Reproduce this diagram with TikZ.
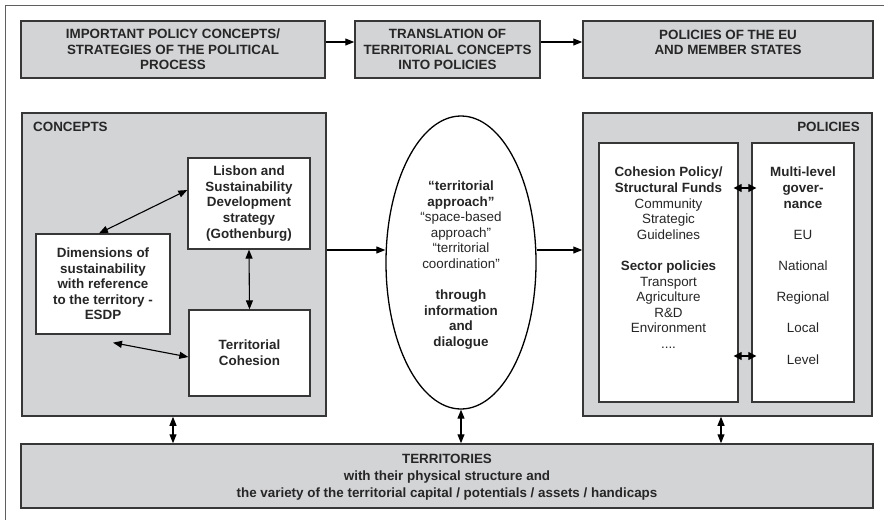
\documentclass[tikz,border=0pt]{standalone}
\usepackage{fontspec}
\setmainfont{Liberation Sans}
\usetikzlibrary{arrows.meta,shapes.geometric,fit}
\definecolor{boxgray}{RGB}{211,212,214}
\definecolor{edge}{RGB}{55,55,55}
\definecolor{frame}{RGB}{95,95,95}
\begin{document}
\begin{tikzpicture}[x=1pt,y=-1pt,
  gbox/.style={draw=edge,line width=1.5pt,fill=boxgray,inner sep=0pt},
  wbox/.style={draw=edge,line width=1.3pt,fill=white,inner sep=0pt},
  txt/.style={font=\fontsize{13.4}{15.6}\selectfont,align=center,inner sep=0pt,text=black!85},
  btxt/.style={font=\fontsize{13.4}{15.6}\selectfont\bfseries,align=center,inner sep=0pt,text=black!85},
  arr/.style={line width=1.1pt,-{Triangle[length=9pt,width=7pt]}},
  darr/.style={line width=1.1pt,{Triangle[length=9pt,width=7pt]}-{Triangle[length=9pt,width=7pt]}},
  sdarr/.style={line width=1.1pt,{Triangle[length=8pt,width=8pt]}-{Triangle[length=8pt,width=8pt]}},
]
\useasboundingbox (0,0) rectangle (884,520);
\draw[line width=1.6pt,draw=frame] (5.5,520) -- (5.5,5.5) -- (884,5.5);

% top row
\node[gbox,fit={(21,21) (325,78)}] (b1) {};
\node[btxt] (b1t) at (b1.center) {IMPORTANT POLICY CONCEPTS/\\STRATEGIES OF THE POLITICAL\\PROCESS};
\node[gbox,fit={(355,21) (540,78)}] (b2) {};
\node[btxt] (b2t) at (b2.center) {TRANSLATION OF\\TERRITORIAL CONCEPTS\\INTO POLICIES};
\node[gbox,fit={(583,21) (873,78)}] (b3) {};
\node[btxt] (b3t) at (728,42.5) {POLICIES OF THE EU\\AND MEMBER STATES};
\coordinate (ytop) at (0,42);
\draw[arr] (b1.east |- ytop) -- (b2.west |- ytop);
\draw[arr] (b2.east |- ytop) -- (b3.west |- ytop);

% concepts
\node[gbox,fit={(22,113) (326,416)}] (con) {};
\node[btxt,anchor=north west] (conl) at (33,122) {CONCEPTS};
\node[wbox,fit={(188,158) (310,249)}] (lis) {};
\node[btxt] (list) at (lis.center) {Lisbon and\\Sustainability\\Development\\strategy\\(Gothenburg)};
\node[wbox,fit={(36,234) (170,334)}] (dim) {};
\node[btxt] (dimt) at (dim.center) {Dimensions of\\sustainability\\with reference\\to the territory -\\ESDP};
\node[wbox,fit={(189,310) (310,396)}] (tc) {};
\node[btxt] (tct) at (tc.center) {Territorial\\Cohesion};
\draw[darr] ([xshift=-4pt]dim.north) -- ([yshift=13.5pt]lis.west);
\draw[darr] (lis.south) -- (tc.north);
\draw[darr] ([xshift=10pt,yshift=-8pt]dim.south) -- ([yshift=-4pt]tc.west);

% ellipse
\node[draw=black,line width=1.3pt,fill=white,ellipse,minimum width=150pt,minimum height=293pt,inner sep=0pt] (ell) at (461,262.5) {};
\node[txt] (ellt) at (461,265) {\textbf{“territorial}\\\textbf{approach”}\\“space-based\\approach”\\“territorial\\coordination”\\[15.6pt]\textbf{through}\\\textbf{information}\\\textbf{and}\\\textbf{dialogue}};
\coordinate (ymid) at (0,250);
\draw[arr] (con.east |- ymid) -- (ell.west |- ymid);

% policies
\node[gbox,fit={(583,113) (872,416)}] (pol) {};
\draw[arr] (ell.east |- ymid) -- (pol.west |- ymid);
\node[btxt,anchor=north east] (poll) at (860,122) {POLICIES};
\node[wbox,fit={(599,143) (738,402)}] (coh) {};
\node[txt,anchor=north] (coht) at (668.5,167) {\textbf{Cohesion Policy/}\\\textbf{Structural Funds}\\Community\\Strategic\\Guidelines\\[15.6pt]\textbf{Sector policies}\\Transport\\Agriculture\\R\&D\\Environment\\....};
\node[wbox,fit={(752,143) (854,402)}] (mlg) {};
\node[txt,anchor=north] (mlgt) at (803,167) {\textbf{Multi-level}\\\textbf{gover-}\\\textbf{nance}\\[15.6pt]EU\\[15.6pt]National\\[15.6pt]Regional\\[15.6pt]Local\\[15.6pt]Level};
\coordinate (ya) at (0,188);
\coordinate (yb) at (0,356);
\draw[sdarr] ([xshift=-5pt]coh.east |- ya) -- ([xshift=5pt]mlg.west |- ya);
\draw[sdarr] ([xshift=-5pt]coh.east |- yb) -- ([xshift=5pt]mlg.west |- yb);

% territories
\node[gbox,fit={(21,444) (873,508)}] (ter) {};
\node[btxt,font=\fontsize{13.4}{16.8}\selectfont\bfseries] (tert) at ([yshift=-1pt]ter.center) {TERRITORIES\\with their physical structure and\\the variety of the territorial capital / potentials / assets / handicaps};
\coordinate (xa) at (173,0);
\coordinate (xc) at (721,0);
\draw[darr] (con.south -| xa) -- (ter.north -| xa);
\draw[darr] (pol.south -| xc) -- (ter.north -| xc);
\draw[darr] (ell.south) -- (ell.south |- ter.north);
\end{tikzpicture}
\end{document}
